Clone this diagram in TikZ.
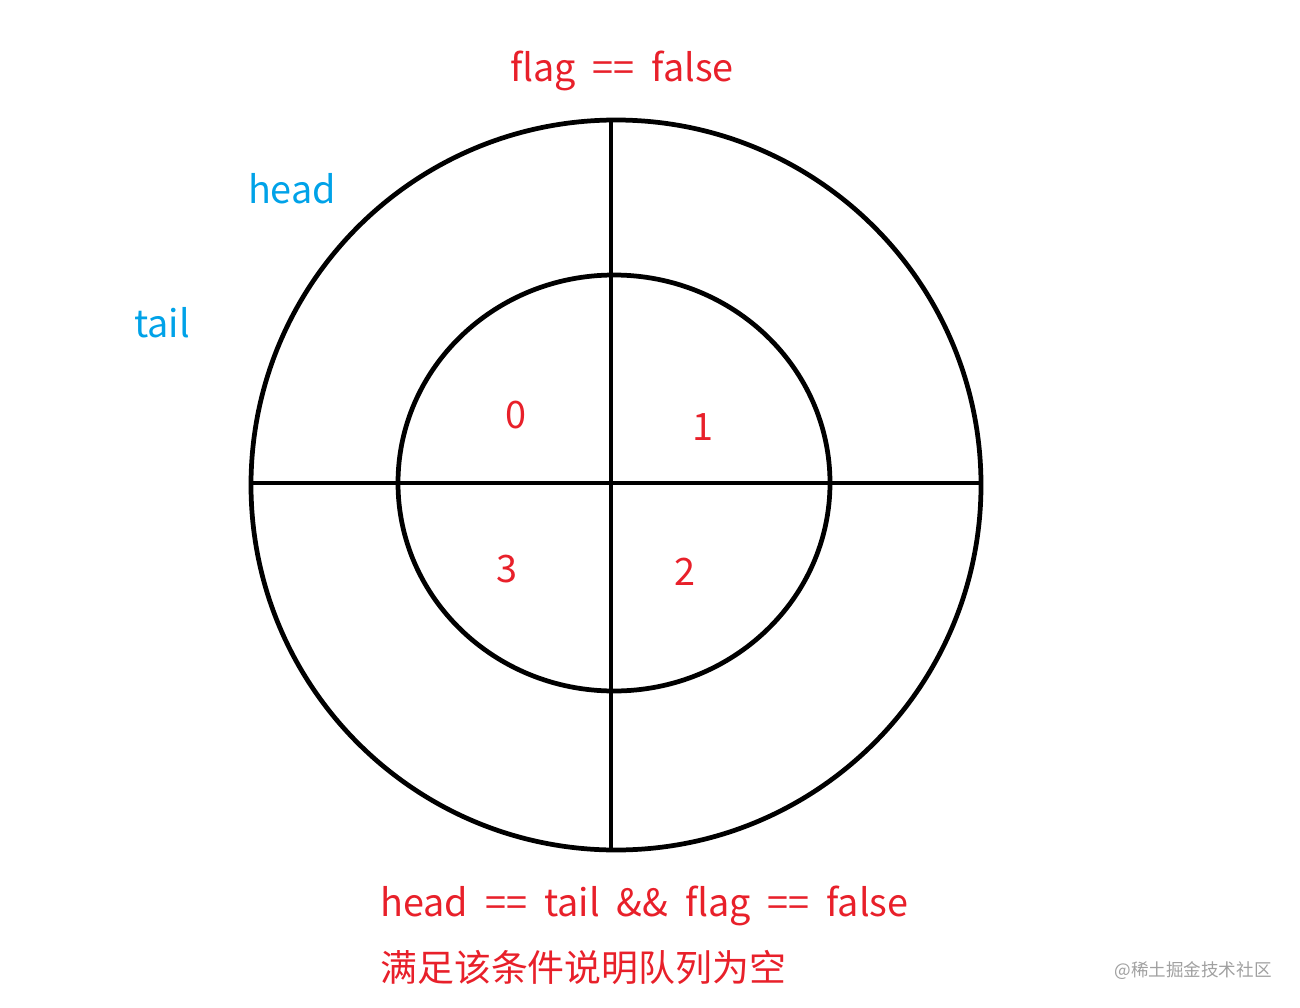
\documentclass[tikz,border=0pt]{standalone}
\usepackage{fontspec}
\setmainfont[WordSpace=2.0]{Noto Sans CJK SC}
\usetikzlibrary{positioning}
\definecolor{qred}{HTML}{E8202A}
\definecolor{qblue}{HTML}{00A2E8}
\definecolor{qgrey}{HTML}{A0A0A0}
\tikzset{
  ring/.style={draw=black, line width=2.7pt},
  redtxt/.style={text=qred, font=\fontsize{21.5}{26}\selectfont, inner sep=0pt},
  bluetxt/.style={text=qblue, font=\fontsize{21.5}{26}\selectfont, inner sep=0pt},
  marktxt/.style={text=qgrey, font=\fontsize{10}{12}\selectfont, inner sep=0pt},
}

\begin{document}
\begin{tikzpicture}[x=0.02cm, y=-0.02cm]
  \useasboundingbox (0,0) rectangle (1300,1007);
  % outer and inner rings
  \draw[ring] (616,485) ellipse [x radius=365, y radius=365];
  \draw[ring] (614,483) ellipse [x radius=216, y radius=208];
  \coordinate (top) at (611,120);
  \coordinate (bot) at (611,850);
  \coordinate (lft) at (252,483);
  \coordinate (rgt) at (982,483);
  \draw[ring] (top) -- (bot);
  \draw[ring] (lft) -- (rgt);
  % labels
  \node[redtxt] (flag) at (622,71) {flag == false};
  \node[bluetxt] (head) at (292,189) {head};
  \node[bluetxt] (tail) at (162,323) {tail};
  \node[redtxt] (s0) at (516,415) {0};
  \node[redtxt] (s1) at (703,427) {1};
  \node[redtxt] (s3) at (507,569) {3};
  \node[redtxt] (s2) at (685,572) {2};
  \node[redtxt, anchor=west] (cond) at (380,906) {head == tail \&\& flag == false};
  \node[redtxt, anchor=west, font=\fontsize{21}{26}\selectfont] (note) at (380,967) {满足该条件说明队列为空};
  \node[marktxt] (mark) at (1193,971) {@稀土掘金技术社区};
\end{tikzpicture}
\end{document}
